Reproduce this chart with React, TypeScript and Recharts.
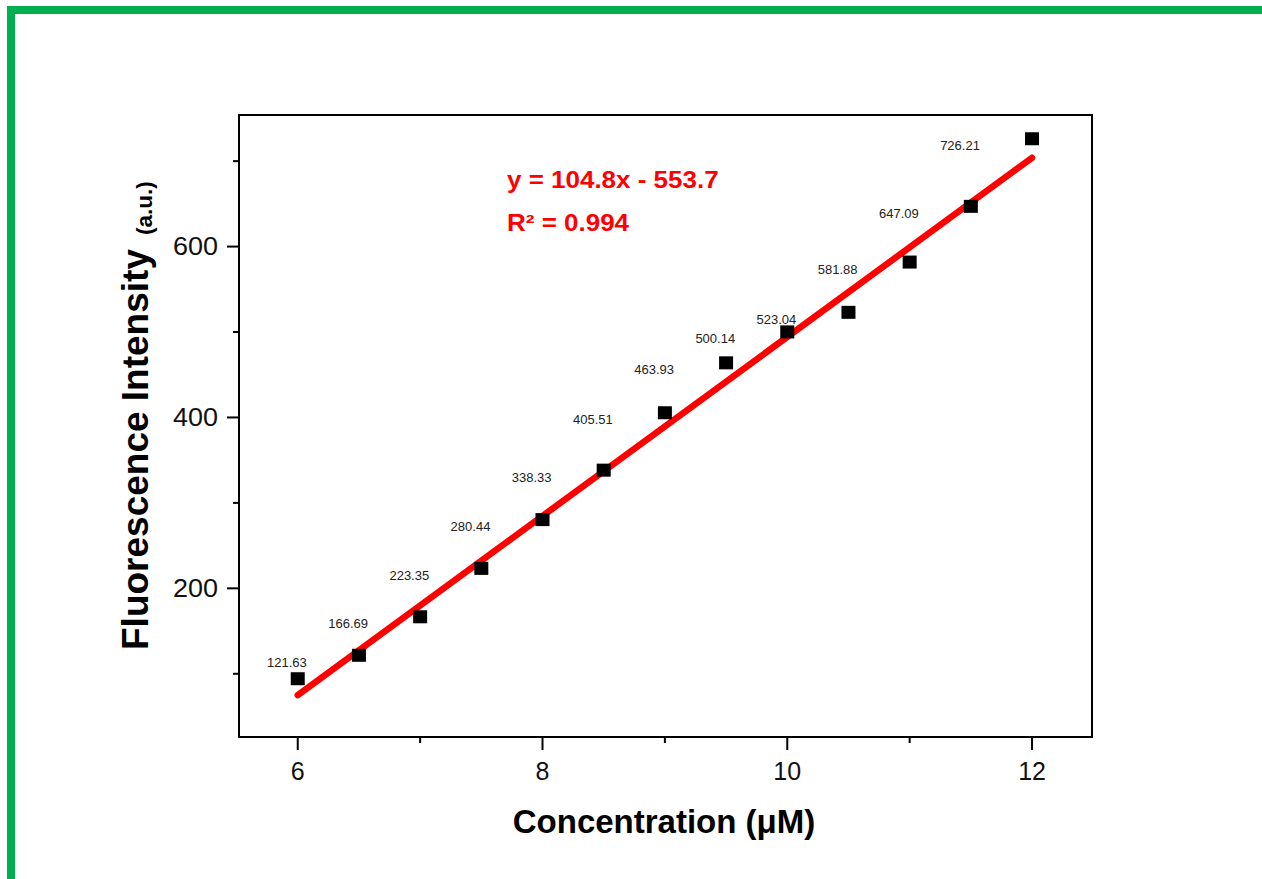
import React from 'react';
import { ComposedChart, Scatter, Line, XAxis, YAxis, ReferenceArea, LabelList } from 'recharts';

// measured points
const concentration = [6, 6.5, 7, 7.5, 8, 8.5, 9, 9.5, 10, 10.5, 11, 11.5, 12];
const intensity = [94.2, 121.63, 166.69, 223.35, 280.44, 338.33, 405.51, 463.93, 500.14, 523.04, 581.88, 647.09, 726.21];
const pointLabels = ['', '121.63', '166.69', '223.35', '280.44', '338.33', '405.51', '463.93', '500.14', '523.04', '581.88', '647.09', '726.21'];

// linear fit y = 104.8x - 553.7 over the measured range
const fitSlope = 104.8;
const fitIntercept = -553.7;
const fitRange = [6, 12];

const xTicks = [6, 7, 8, 9, 10, 11, 12];
const xLabeled = [6, 8, 10, 12];
const yTicks = [100, 200, 300, 400, 500, 600, 700];
const yLabeled = [200, 400, 600];

const X_DOMAIN: [number, number] = [5.52, 12.49];
const Y_DOMAIN: [number, number] = [26, 754];

const FONT = '"Liberation Sans", Arial, sans-serif';

const points = concentration.map((x, i) => ({ x, y: intensity[i], label: pointLabels[i] }));
const fitLine = fitRange.map((x) => ({ x, y: fitSlope * x + fitIntercept }));

const YTick = (props: any) => {
  const { x, y, payload } = props;
  const major = yLabeled.includes(payload.value);
  return (
    <g>
      <line x1={x} x2={x - (major ? 12 : 6)} y1={y} y2={y} stroke="#000" strokeWidth={2} />
      {major && (
        <g transform={`translate(${x - 21} ${y}) scale(1.08 1)`}>
          <text x={0} y={0} textAnchor="end" dominantBaseline="central" fontFamily={FONT} fontSize={25} fill="#111">
            {payload.value}
          </text>
        </g>
      )}
    </g>
  );
};

const XTick = (props: any) => {
  const { x, y, payload } = props;
  const major = xLabeled.includes(payload.value);
  return (
    <g>
      <line x1={x} x2={x} y1={y} y2={y + (major ? 13 : 6)} stroke="#000" strokeWidth={2} />
      {major && (
        <text x={x} y={y + 43} textAnchor="middle" fontFamily={FONT} fontSize={25} fill="#111">
          {payload.value}
        </text>
      )}
    </g>
  );
};

const Square = (props: any) => {
  const { cx, cy } = props;
  return <rect x={cx - 7} y={cy - 6.5} width={14} height={13} fill="#000" />;
};

const PointLabel = (props: any) => {
  const { x, y, width, height, value } = props;
  if (!value) return null;
  const cx = x + (width || 0) / 2;
  const cy = y + (height || 0) / 2;
  return (
    <text
      x={cx - 72}
      y={cy + 7}
      textAnchor="middle"
      dominantBaseline="central"
      fontFamily={FONT}
      fontSize={13}
      fill="#222"
    >
      {value}
    </text>
  );
};

export default function App() {
  return (
    <div style={{ position: 'absolute', left: 0, top: 0, width: 1262, height: 879, background: '#fff' }}>
      <div
        style={{
          position: 'absolute',
          left: 7,
          top: 6,
          right: 0,
          bottom: 0,
          borderTop: '8px solid #00b050',
          borderLeft: '8px solid #00b050',
        }}
      />
      <div style={{ position: 'absolute', left: 0, top: 0 }}>
        <ComposedChart width={1262} height={879} margin={{ top: 115, right: 170, bottom: 112, left: 179 }}>
          <XAxis
            dataKey="x"
            type="number"
            domain={X_DOMAIN}
            ticks={xTicks}
            allowDataOverflow
            axisLine={false}
            tickLine={false}
            tickSize={0}
            tickMargin={0}
            height={30}
            tick={<XTick />}
            interval={0}
          />
          <YAxis
            type="number"
            domain={Y_DOMAIN}
            ticks={yTicks}
            allowDataOverflow
            axisLine={false}
            tickLine={false}
            tickSize={0}
            tickMargin={0}
            width={60}
            tick={<YTick />}
            interval={0}
          />
          <ReferenceArea
            x1={X_DOMAIN[0]}
            x2={X_DOMAIN[1]}
            y1={Y_DOMAIN[0]}
            y2={Y_DOMAIN[1]}
            fill="none"
            stroke="#000"
            strokeWidth={2}
            ifOverflow="visible"
          />
          <Scatter data={points} dataKey="y" shape={<Square />} isAnimationActive={false}>
            <LabelList dataKey="label" content={<PointLabel />} />
          </Scatter>
          <Line
            data={fitLine}
            dataKey="y"
            type="linear"
            stroke="#ff0000"
            strokeWidth={6.5}
            strokeLinecap="round"
            dot={false}
            activeDot={false}
            isAnimationActive={false}
          />
        </ComposedChart>
      </div>
      <svg
        width={1262}
        height={879}
        style={{ position: 'absolute', left: 0, top: 0, pointerEvents: 'none' }}
      >
        <text
          transform="translate(148 650) rotate(-90)"
          fontFamily={FONT}
          fontWeight="bold"
          fontSize={37}
          fill="#000"
        >
          Fluorescence Intensity
        </text>
        <text
          transform="translate(152 235) rotate(-90)"
          fontFamily={FONT}
          fontWeight="bold"
          fontSize={22.5}
          fill="#000"
        >
          (a.u.)
        </text>
        <text x={664} y={833} textAnchor="middle" fontFamily={FONT} fontWeight="bold" fontSize={33} fill="#000">
          Concentration (μM)
        </text>
        <g transform="translate(507 188) scale(1.13 1)">
          <text x={0} y={0} fontFamily={FONT} fontWeight="bold" fontSize={23} fill="#ff0000">
            y = 104.8x - 553.7
          </text>
        </g>
        <g transform="translate(507 231) scale(1.13 1)">
          <text x={0} y={0} fontFamily={FONT} fontWeight="bold" fontSize={23} fill="#ff0000">
            R² = 0.994
          </text>
        </g>
      </svg>
    </div>
  );
}
